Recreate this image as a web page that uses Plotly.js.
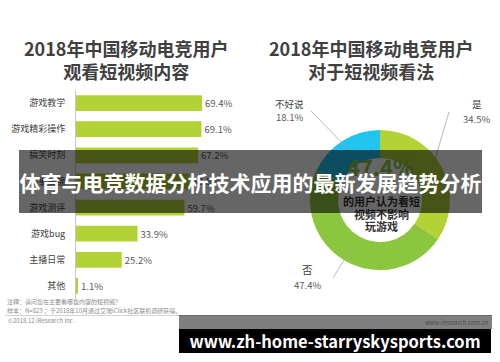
<!DOCTYPE html>
<html>
<head>
<meta charset="utf-8">
<script src="https://cdn.plot.ly/plotly-3.0.1.min.js"></script>
<style>html,body{margin:0;padding:0;background:#fff;}#chart{width:500px;height:362px;}</style>
</head>
<body>
<div id="chart"></div>
<script>
// ---- data ----
const contentCategories = ['游戏教学', '游戏精彩操作', '搞笑时刻', '赛事集锦', '游戏测评', '游戏bug', '主播日常', '其他'];
const contentShares = [69.4, 69.1, 67.2, 62.5, 59.7, 33.9, 25.2, 1.1];
const opinionLabels = ['是', '否', '不好说'];
const opinionShares = [34.5, 47.4, 18.1];
const leftTitle = '2018年中国移动电竞用户<br>观看短视频内容';
const rightTitle = '2018年中国移动电竞用户<br>对于短视频看法';
const centerLines = ['的用户认为看短', '视频不影响', '玩游戏'];
const footnotes = ['注释：请问您在主要看哪些内容的短视频？', '样本：N=823 ；于2018年10月通过艾瑞iClick社区联机调研获得。', '©2018.12 iResearch Inc .'];
const sourceSite = 'www.iresearch.com.cn';
const bannerText = '体育与电竞数据分析技术应用的最新发展趋势分析';
const urlText = 'www.zh-home-starryskysports.com';

// ---- helpers (pixel -> paper) ----
const W = 500, H = 362;
const px = x => x / W;
const py = y => 1 - y / H;
const FONT = '"Noto Sans CJK SC", "Noto Sans", sans-serif';
const pct = v => v.toFixed(1) + '%';

const barColor = '#b3d235';
const pieColors = ['#b3d235', '#8cc63f', '#20c4ef'];

const traces = [
  {
    type: 'bar', orientation: 'h',
    y: contentCategories, x: contentShares,
    xaxis: 'x', yaxis: 'y',
    marker: {color: barColor, line: {width: 0}},
    text: contentShares.map(pct),
    textposition: 'outside', cliponaxis: false,
    textfont: {family: FONT, size: 9.5, color: '#595959'},
    hoverinfo: 'none', showlegend: false
  },
  {
    type: 'pie',
    labels: opinionLabels, values: opinionShares,
    domain: {x: [px(310), px(450)], y: [py(270), py(130)]},
    hole: 0.6, sort: false, direction: 'clockwise', rotation: 0,
    marker: {colors: pieColors, line: {width: 0}},
    textinfo: 'none', hoverinfo: 'none', showlegend: false
  }
];

const ann = [];
function txt(text, x, y, size, color, opts) {
  ann.push(Object.assign({
    text: text, x: px(x), y: py(y), xref: 'paper', yref: 'paper',
    showarrow: false, xanchor: 'center', yanchor: 'middle',
    font: {family: FONT, size: size, color: color}
  }, opts || {}));
}
txt('<b>' + leftTitle + '</b>', 125.5, 59.5, 18, '#404040');
txt('<b>' + rightTitle + '</b>', 371, 59.5, 18, '#404040');

// pie outside labels
txt(opinionLabels[2], 289, 104, 9.5, '#404040');
txt(pct(opinionShares[2]), 289, 117, 9.5, '#595959');
txt(opinionLabels[0], 477, 104, 9.5, '#404040');
txt(pct(opinionShares[0]), 476, 118.5, 9.5, '#595959');
txt(opinionLabels[1], 307, 269.5, 10.5, '#404040');
txt(pct(opinionShares[1]), 307, 285, 9.5, '#595959');

// donut centre
txt('<b>' + pct(opinionShares[1]) + '</b>', 380, 166, 22, '#8cc63f');
txt('<b>' + centerLines[0] + '</b>', 381, 201, 11, '#333333');
txt('<b>' + centerLines[1] + '</b>', 381, 213.5, 11, '#333333');
txt('<b>' + centerLines[2] + '</b>', 381, 226, 11, '#333333');

// footnotes
txt(footnotes[0], 5, 301.5, 6, '#8c8c8c', {xanchor: 'left'});
txt(footnotes[1], 5, 310.5, 6, '#8c8c8c', {xanchor: 'left'});
txt(footnotes[2], 6, 320.5, 6, '#8c8c8c', {xanchor: 'left'});
txt(sourceSite, 491, 322, 6, '#4d4d4d', {xanchor: 'right'});

// bottom url box
txt('<b>' + urlText + '</b>', 335, 341, 16.5, '#ffffff',
    {bgcolor: '#000000', width: 312, height: 24, borderpad: 0, borderwidth: 0});
// overlay banner (drawn last, above everything)
txt('<b>' + bannerText + '</b>', 250.5, 181.5, 21, '#ffffff',
    {bgcolor: 'rgba(0,0,0,0.6)', width: 463, height: 63, borderpad: 0, borderwidth: 0});

const line = (x0, y0, x1, y1, color) => ({
  type: 'line', xref: 'paper', yref: 'paper', layer: 'above',
  x0: px(x0), y0: py(y0), x1: px(x1), y1: py(y1),
  line: {color: color || '#a6a6a6', width: 0.8}
});

const shapes = [
  line(311, 111, 350, 151),
  line(449, 112, 431, 173),
  line(333, 278, 352, 247),
  line(5, 315.5, 492, 315.5, '#c8c8c8'),
  {type: 'rect', xref: 'paper', yref: 'paper', layer: 'above',
   x0: px(179), x1: px(492), y0: py(329), y1: py(315),
   fillcolor: 'rgba(0,0,0,0.5)', line: {width: 0}}
];

const layout = {
  width: W, height: H,
  margin: {l: 0, r: 0, t: 0, b: 0},
  paper_bgcolor: '#ffffff', plot_bgcolor: 'rgba(0,0,0,0)',
  font: {family: FONT},
  xaxis: {domain: [px(76), px(257.6)], range: [0, 100], visible: false, fixedrange: true},
  yaxis: {
    domain: [py(299), py(90)], autorange: 'reversed',
    showline: true, linecolor: '#c8c8c8', linewidth: 1,
    ticks: '', showgrid: false, zeroline: false,
    ticklabelstandoff: 8,
    tickfont: {family: FONT, size: 9, color: '#404040'}
  },
  bargap: 0.4,
  annotations: ann,
  shapes: shapes
};

Plotly.newPlot('chart', traces, layout, {staticPlot: true, displayModeBar: false});
</script>
</body>
</html>
